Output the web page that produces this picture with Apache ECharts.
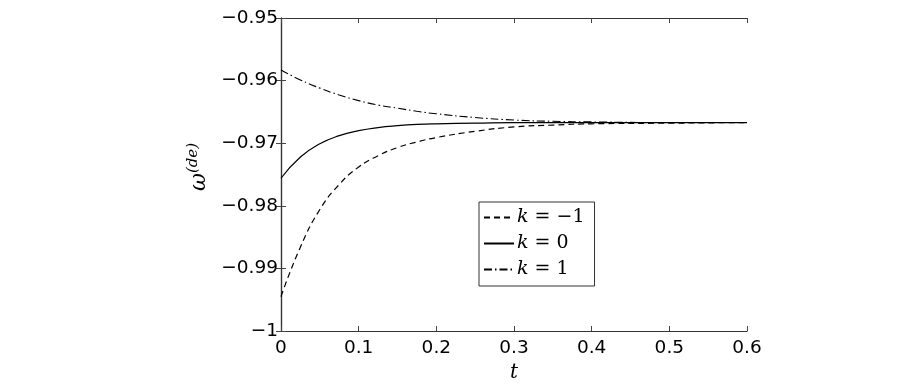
<!DOCTYPE html>
<html>
<head>
<meta charset="utf-8">
<script src="https://cdn.jsdelivr.net/npm/echarts@6/dist/echarts.min.js"></script>
<style>
  html, body { margin: 0; padding: 0; background: #fff; }
  #main { width: 914px; height: 389px; }
</style>
</head>
<body>
<div id="main"></div>
<script>
// values
var tVals = [0, 0.025, 0.05, 0.075, 0.1, 0.125, 0.15, 0.175, 0.2, 0.25, 0.3, 0.35, 0.4, 0.5, 0.6];
var kMinus1 = [-0.9945, -0.9866, -0.9806, -0.9766, -0.9738, -0.9720, -0.9707, -0.9698, -0.9691, -0.9681, -0.9674, -0.9671, -0.9669, -0.9668, -0.9667];
var kZero   = [-0.9756, -0.9722, -0.9701, -0.9688, -0.9680, -0.9675, -0.9672, -0.9670, -0.9669, -0.9668, -0.9667, -0.9667, -0.9667, -0.9667, -0.9667];
var kOne    = [-0.9583, -0.9599, -0.9612, -0.9623, -0.9632, -0.9639, -0.9644, -0.9649, -0.9653, -0.9659, -0.9663, -0.9665, -0.9666, -0.9667, -0.9667];
var seriesNames = ['k = −1', 'k = 0', 'k = 1'];

function pairs(ys) {
  var out = [];
  for (var i = 0; i < tVals.length; i++) out.push([tVals[i], ys[i]]);
  return out;
}

function yLabel(v) {
  var s = String(Math.round(v * 100) / 100);
  return s.replace('-', '−');
}

var chart = echarts.init(document.getElementById('main'));

var tickStyle = { show: true, inside: true, length: 5, lineStyle: { color: '#444', width: 1 } };
var lineAx = { show: true, lineStyle: { color: '#333', width: 1.2 } };
var font = 'DejaVu Sans, sans-serif';
var serif = 'DejaVu Serif, Liberation Serif, serif';

var option = {
  animation: false,
  backgroundColor: '#fff',
  grid: { left: 281, right: 167, top: 18, bottom: 58, containLabel: false },
  legend: {
    data: seriesNames,
    orient: 'vertical',
    left: 479, top: 202,
    itemWidth: 30, itemHeight: 10, itemGap: 7,
    padding: [6, 10, 7, 4],
    borderColor: '#333', borderWidth: 1,
    backgroundColor: '#fff',
    itemStyle: { opacity: 0 },
    formatter: function (name) {
      return '{i|k} ' + name.slice(2);
    },
    textStyle: {
      fontFamily: serif,
      fontSize: 19, color: '#000', padding: [0, 0, 0, -2],
      rich: { i: { fontStyle: 'italic', fontFamily: serif, fontSize: 19 } }
    }
  },
  xAxis: [{
    type: 'value', min: 0, max: 0.6, interval: 0.1,
    name: 't', nameLocation: 'middle', nameGap: 30,
    nameTextStyle: { fontFamily: serif, fontStyle: 'italic', fontSize: 20, color: '#000' },
    axisLine: lineAx, axisTick: tickStyle, splitLine: { show: false },
    axisLabel: { color: '#000', fontSize: 18.5, fontFamily: font, margin: 8 }
  }, {
    type: 'value', min: 0, max: 0.6, interval: 0.1, position: 'top',
    axisLine: lineAx, axisTick: tickStyle, splitLine: { show: false },
    axisLabel: { show: false }
  }],
  yAxis: [{
    type: 'value', min: -1, max: -0.95, interval: 0.01,
    name: '{w|ω}{s|(de)}', nameLocation: 'middle', nameGap: 57, nameRotate: 90,
    nameTextStyle: {
      padding: [0, 0, 0, 15],
      rich: {
        w: { fontFamily: serif, fontStyle: 'italic', fontSize: 22, color: '#000' },
        s: { fontFamily: serif, fontStyle: 'italic', fontSize: 15, color: '#000', verticalAlign: 'top', padding: [0, 0, 12, 0] }
      }
    },
    axisLine: lineAx, axisTick: tickStyle, splitLine: { show: false },
    axisLabel: { color: '#000', fontSize: 18.5, fontFamily: font, margin: 3, formatter: yLabel }
  }, {
    type: 'value', min: -1, max: -0.95, interval: 0.01, position: 'right',
    axisLine: lineAx, axisTick: tickStyle, splitLine: { show: false },
    axisLabel: { show: false }
  }],
  series: [{
    name: seriesNames[0], type: 'line', smooth: true, symbol: 'none',
    data: pairs(kMinus1),
    lineStyle: { color: '#000', width: 1.2, type: [6, 4] },
    itemStyle: { color: '#000' }
  }, {
    name: seriesNames[1], type: 'line', smooth: true, symbol: 'none',
    data: pairs(kZero),
    lineStyle: { color: '#000', width: 1.2, type: 'solid' },
    itemStyle: { color: '#000' }
  }, {
    name: seriesNames[2], type: 'line', smooth: true, symbol: 'none',
    data: pairs(kOne),
    lineStyle: { color: '#000', width: 1.1, type: [8, 3, 1.5, 3] },
    itemStyle: { color: '#000' }
  }]
};

chart.setOption(option);
</script>
</body>
</html>
